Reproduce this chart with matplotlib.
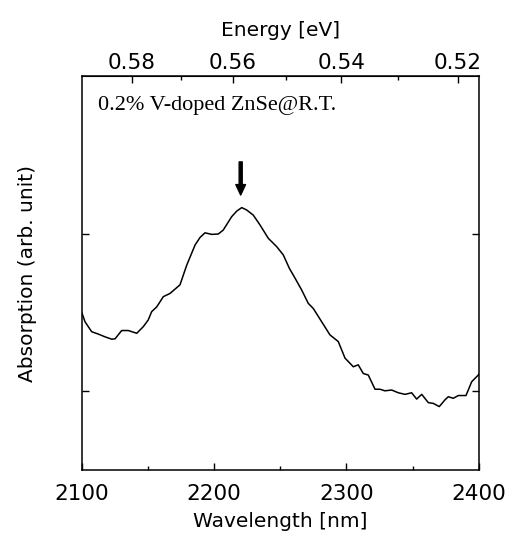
import numpy as np
import matplotlib
matplotlib.use('Agg')
import matplotlib.pyplot as plt

# absorption spectrum
wavelength = [2100.0, 2102.3, 2107.3, 2112.3, 2117.4, 2122.5, 2125.0, 2130.0, 2135.0, 2141.4,
              2146.4, 2150.1, 2152.7, 2156.5, 2161.5, 2166.5, 2174.1, 2179.2, 2185.5, 2189.2,
              2193.0, 2198.1, 2203.1, 2206.8, 2213.2, 2217.0, 2220.8, 2224.5, 2229.5, 2234.6,
              2240.9, 2247.2, 2252.2, 2256.8, 2261.1, 2266.1, 2271.1, 2274.9, 2281.3, 2287.5,
              2293.8, 2298.9, 2305.2, 2308.9, 2312.7, 2316.5, 2321.6, 2325.3, 2329.1, 2334.2,
              2339.2, 2344.3, 2349.3, 2353.1, 2356.9, 2361.9, 2365.7, 2370.2, 2374.5, 2377.0,
              2380.8, 2384.6, 2390.4, 2394.7, 2399.7, 2400.0]
absorption = [0.398, 0.376, 0.351, 0.345, 0.338, 0.332, 0.333, 0.354, 0.354, 0.347,
              0.364, 0.381, 0.402, 0.414, 0.440, 0.448, 0.470, 0.520, 0.571, 0.590,
              0.602, 0.598, 0.599, 0.609, 0.643, 0.657, 0.666, 0.660, 0.647, 0.622,
              0.588, 0.567, 0.546, 0.512, 0.487, 0.457, 0.423, 0.410, 0.376, 0.343,
              0.326, 0.284, 0.262, 0.267, 0.245, 0.241, 0.205, 0.205, 0.201, 0.203,
              0.196, 0.192, 0.196, 0.180, 0.192, 0.171, 0.169, 0.161, 0.178, 0.186,
              0.182, 0.189, 0.189, 0.224, 0.241, 0.243]

x_major = [2100, 2200, 2300, 2400]
x_minor = [2150, 2250, 2350]
e_major = [0.58, 0.56, 0.54, 0.52]
e_minor = [0.57, 0.55, 0.53]
y_ticks = [0.2, 0.6]
peak_wl = 2220
label = '0.2% V-doped ZnSe@R.T.'

plt.rcParams['font.family'] = ['DejaVu Sans']

fig = plt.figure(figsize=(5.05, 5.33), dpi=100)
ax = fig.add_axes([0.1624, 0.1182, 0.7855, 0.7392])

ax.plot(wavelength, absorption, color='black', lw=1.1)
ax.set_xlim(2100, 2400)
ax.set_ylim(0, 1.0)

ax.set_xticks(x_major)
ax.set_xticks(x_minor, minor=True)
ax.set_yticks(y_ticks)
ax.set_yticklabels([])
ax.tick_params(which='both', direction='in', right=True, labelsize=15.5, width=1.0)
ax.tick_params(which='major', length=5)
ax.tick_params(which='minor', length=3)
ax.tick_params(axis='x', pad=10)
for s in ax.spines.values():
    s.set_linewidth(1.1)

ax.set_xlabel('Wavelength [nm]', fontsize=14.5)
ax.xaxis.set_label_coords(0.5, -0.106)
ax.set_ylabel('Absorption (arb. unit)', fontsize=14.5)
ax.yaxis.set_label_coords(-0.114, 0.5)

# energy axis on top
hc = 1239.84
sec = ax.secondary_xaxis('top', functions=(lambda w: hc / np.asarray(w, dtype=float),
                                           lambda e: hc / np.asarray(e, dtype=float)))
sec.set_xticks(e_major)
sec.set_xticks(e_minor, minor=True)
sec.set_xticklabels(['%.2f' % e for e in e_major])
sec.tick_params(which='both', direction='in', labelsize=15.5, width=1.0, pad=2.5)
sec.tick_params(which='major', length=5)
sec.tick_params(which='minor', length=3)
sec.set_xlabel('Energy [eV]', fontsize=14.5, labelpad=12)

ax.text(0.041, 0.9137, label, transform=ax.transAxes, fontsize=16,
        family=['Liberation Serif', 'DejaVu Serif'], va='baseline', ha='left')

ax.annotate('', xy=(peak_wl, 0.698), xytext=(peak_wl, 0.782),
            arrowprops=dict(width=2.2, headwidth=7, headlength=7.5, shrink=0, color='black'))

plt.savefig('out.png', dpi=100)
plt.close()
